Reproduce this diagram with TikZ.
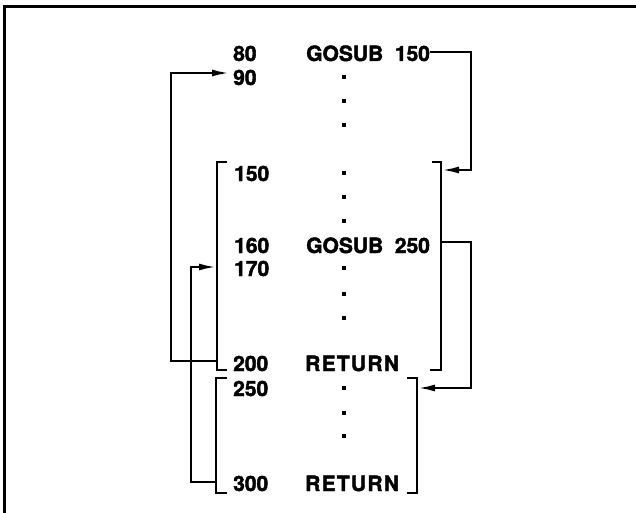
\documentclass[tikz,border=0pt]{standalone}
\usepackage{fontspec}
\setmainfont{TeX Gyre Heros}[BoldFeatures={FakeBold=2}]
\newfontfamily\spacedfont{TeX Gyre Heros}[LetterSpace=6,BoldFeatures={FakeBold=2}]
\usetikzlibrary{arrows.meta}
\begin{document}
\begin{tikzpicture}[x=1pt,y=-1pt,
  txt/.style={anchor=base west,inner sep=0pt,font=\bfseries\fontsize{21}{24}\selectfont},
  rettxt/.style={txt,font=\spacedfont\bfseries\fontsize{21}{24}\selectfont},
  dotmark/.style={rectangle,fill,inner sep=0pt,minimum size=4.2pt},
  ln/.style={line width=2.2pt},
  arr/.style={ln,-{Latex[length=17pt,width=7pt]}},
  frame/.style={line width=3pt}]
\useasboundingbox (0,0) rectangle (636,513);
% frame (top and left edges)
\coordinate (ftr) at (636,7);
\coordinate (ftl) at (4.5,7);
\coordinate (fbl) at (4.5,513);
\draw[frame] (ftr) -- (ftl) -- (fbl);

% line numbers
\node[txt] (n80)  at (233,61)  {80};
\node[txt] (n90)  at (233,85)  {90};
\node[txt] (n150) at (234,181) {150};
\node[txt] (n160) at (234,253) {160};
\node[txt] (n170) at (234,276) {170};
\node[txt] (n200) at (233,371) {200};
\node[txt] (n250) at (233,396) {250};
\node[txt] (n300) at (233,491) {300};

% statements
\node[txt] (g150) at (306,61)  {GOSUB\ \ 150};
\node[txt] (g250) at (306,253) {GOSUB\ \ 250};
\node[rettxt] (ret1) at (305,371) {RETURN};
\node[rettxt] (ret2) at (305,491) {RETURN};

% dots
\foreach \i/\y in {a/77,b/101,c/125,d/173,e/197,f/221,g/268,h/294,i/318,j/388,k/413,l/436}
  \node[dotmark] (dot\i) at (344,\y) {};

% brackets of subroutine 1
\coordinate (b1ltt) at (227,162);
\coordinate (b1lt)  at (217,162);
\coordinate (b1lb)  at (217,370);
\coordinate (b1lbt) at (227,370);
\coordinate (b1rtt) at (432,162);
\coordinate (b1rt)  at (441,162);
\coordinate (b1rb)  at (441,370);
\coordinate (b1rbt) at (430,370);
\draw[ln] (b1ltt) -- (b1lt) -- (b1lb) -- (b1lbt);
\draw[ln] (b1rtt) -- (b1rt) -- (b1rb) -- (b1rbt);

% brackets of subroutine 2
\coordinate (b2ltt) at (227,378);
\coordinate (b2lt)  at (216,378);
\coordinate (b2lb)  at (216,493);
\coordinate (b2lbt) at (227,493);
\coordinate (b2rtt) at (407,378);
\coordinate (b2rt)  at (417,378);
\coordinate (b2rb)  at (417,493);
\coordinate (b2rbt) at (407,493);
\draw[ln] (b2ltt) -- (b2lt) -- (b2lb) -- (b2lbt);
\draw[ln] (b2rtt) -- (b2rt) -- (b2rb) -- (b2rbt);

% GOSUB 150 -> subroutine 1
\coordinate (c1s) at (430,52);
\coordinate (c1r) at (471,52);
\coordinate (c1e) at (442,170);
\draw[arr] (c1s) -- (c1r) |- (c1e);

% RETURN (200) -> 90
\coordinate (c2s) at (217,361);
\coordinate (c2l) at (171,361);
\coordinate (c2e) at (229,73);
\draw[arr] (c2s) -- (c2l) |- (c2e);

% GOSUB 250 -> subroutine 2
\coordinate (c3s) at (441,242);
\coordinate (c3r) at (471,242);
\coordinate (c3e) at (418,388);
\draw[arr] (c3s) -- (c3r) |- (c3e);

% RETURN (300) -> 170
\coordinate (c4s) at (216,482);
\coordinate (c4l) at (191,482);
\coordinate (c4e) at (216,267);
\draw[arr] (c4s) -- (c4l) |- (c4e);
\end{tikzpicture}
\end{document}
